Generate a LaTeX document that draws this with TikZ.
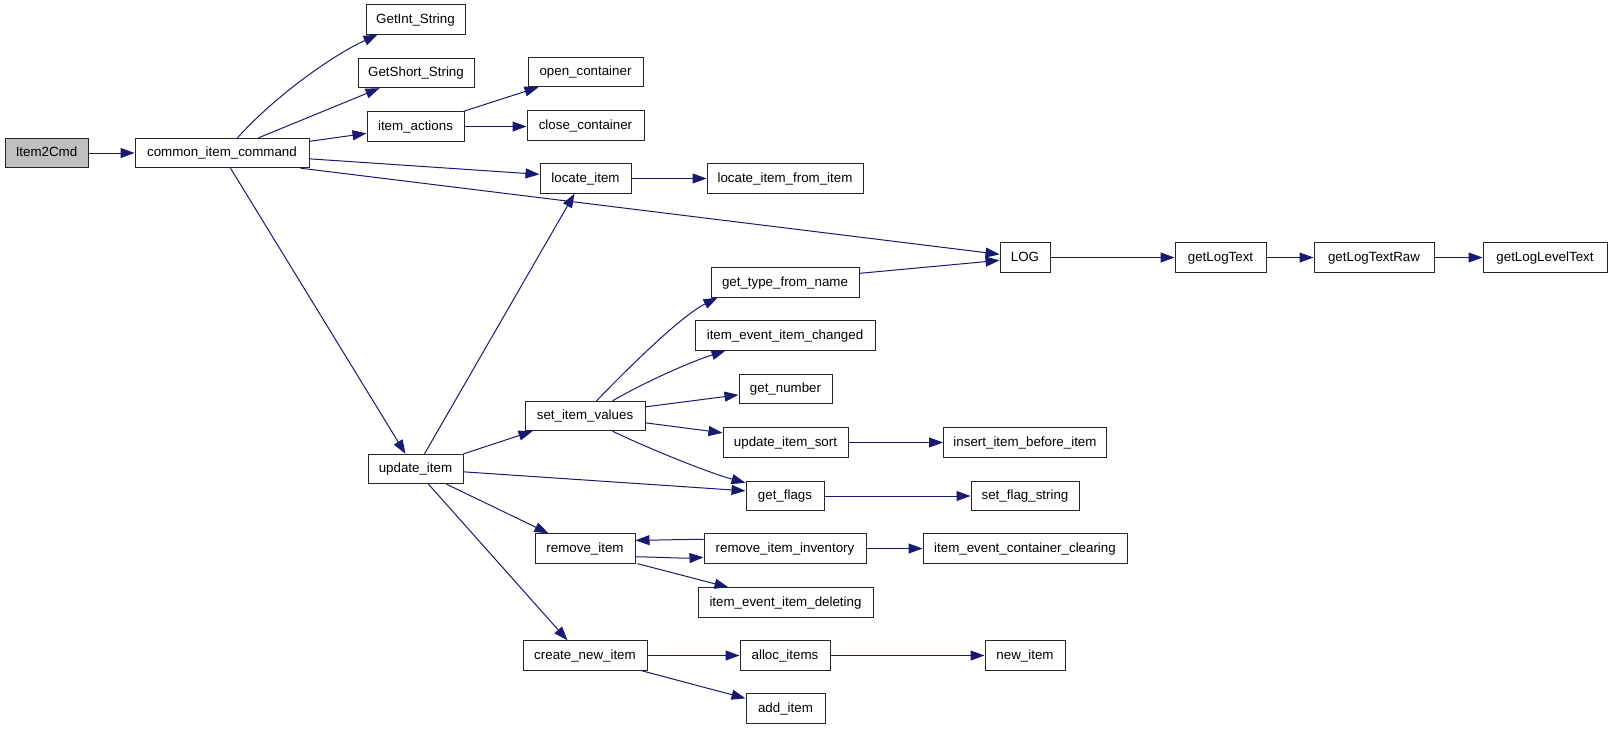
\documentclass[tikz,border=0pt]{standalone}
\usepackage{fontspec}
\setmainfont{Liberation Sans}
\usetikzlibrary{calc,arrows.meta}
\definecolor{edgeblue}{HTML}{191970}
\definecolor{rootgray}{HTML}{BFBFBF}
\tikzset{
  fbox/.style={draw=black!85, line width=0.75pt, fill=white, inner sep=0pt,
    minimum height=22pt, text height=8pt, text depth=2.4pt,
    font=\fontsize{10}{12}\selectfont},
  edge/.style={draw=edgeblue, line width=0.75pt,
    -{Triangle[length=10.5pt,width=7.5pt]}}
}
\begin{document}
\begin{tikzpicture}[x=0.75pt,y=-0.75pt]
\fill[white] (0,0) rectangle (1613,729);
\useasboundingbox (0,0) rectangle (1613,729);
% nodes
\node[fbox, fill=rootgray, minimum width=62.25pt] (item2cmd) at (46.5,153) {Item2Cmd};
\node[fbox, minimum width=130.5pt] (cic) at (222,153) {common\_item\_command};
\node[fbox, minimum width=74.25pt] (gis) at (415.5,19.5) {GetInt\_String};
\node[fbox, minimum width=87pt] (gss) at (416,73) {GetShort\_String};
\node[fbox, minimum width=72.75pt] (ia) at (415.5,126.5) {item\_actions};
\node[fbox, minimum width=86.25pt] (oc) at (585.5,72) {open\_container};
\node[fbox, minimum width=87.75pt] (cc) at (585.5,125.5) {close\_container};
\node[fbox, minimum width=68.25pt] (li) at (585.5,178.5) {locate\_item};
\node[fbox, minimum width=117pt] (lifi) at (785,178.5) {locate\_item\_from\_item};
\node[fbox, minimum width=37.5pt] (log) at (1025,257.5) {LOG};
\node[fbox, minimum width=68.25pt] (glt) at (1220.5,257.5) {getLogText};
\node[fbox, minimum width=90pt] (gltr) at (1374,257.5) {getLogTextRaw};
\node[fbox, minimum width=93pt] (glLT) at (1545,257.5) {getLogLevelText};
\node[fbox, minimum width=111pt] (gtfn) at (785,282.5) {get\_type\_from\_name};
\node[fbox, minimum width=135pt] (ieic) at (785,335.5) {item\_event\_item\_changed};
\node[fbox, minimum width=69.75pt] (gn) at (785.5,389) {get\_number};
\node[fbox, minimum width=90pt] (siv) at (585,416) {set\_item\_values};
\node[fbox, minimum width=93.75pt] (uis) at (785.5,442.5) {update\_item\_sort};
\node[fbox, minimum width=122.25pt] (iibi) at (1025,442.5) {insert\_item\_before\_item};
\node[fbox, minimum width=71.25pt] (ui) at (415.5,469) {update\_item};
\node[fbox, minimum width=58.5pt] (gf) at (785,496) {get\_flags};
\node[fbox, minimum width=81pt] (sfs) at (1025,496) {set\_flag\_string};
\node[fbox, minimum width=75pt] (ri) at (585,548.5) {remove\_item};
\node[fbox, minimum width=121.5pt] (rii) at (785,548.5) {remove\_item\_inventory};
\node[fbox, minimum width=153pt] (iecc) at (1025,548.5) {item\_event\_container\_clearing};
\node[fbox, minimum width=131.25pt] (ieid) at (785.5,602.5) {item\_event\_item\_deleting};
\node[fbox, minimum width=93pt] (cni) at (585,655.5) {create\_new\_item};
\node[fbox, minimum width=67.5pt] (ai) at (785,655.5) {alloc\_items};
\node[fbox, minimum width=60pt] (ni) at (1025,655.5) {new\_item};
\node[fbox, minimum width=59.25pt] (addi) at (785.5,708.5) {add\_item};
% edges
\draw[edge] (item2cmd) -- (cic);
\draw[edge] ($(cic.north west)+(103,0)$) .. controls (273,98) and (331,56) .. ($(gis.south west)+(12,0)$);
\draw[edge] ($(cic.north west)+(124,0)$) -- ($(gss.south west)+(22,0)$);
\draw[edge] ($(cic.north east)+(0,3.5)$) -- ($(ia.north west)+(0,22)$);
\draw[edge] ($(cic.north east)+(0,21)$) -- ($(li.north west)+(0,11)$);
\draw[edge] ($(cic.south east)+(-9,0)$) -- ($(log.north west)+(0,12)$);
\draw[edge] ($(cic.south west)+(96,0)$) -- ($(ui.north west)+(38,0)$);
\draw[edge] ($(ia.north east)+(-1,0)$) -- ($(oc.south west)+(11,0)$);
\draw[edge] (ia.east) -- (ia.east -| cc.west);
\draw[edge] (li) -- (lifi);
\draw[edge] (log) -- (glt);
\draw[edge] (glt) -- (gltr);
\draw[edge] (gltr) -- (glLT);
\draw[edge] ($(gtfn.north east)+(0,6)$) -- ($(log.north west)+(0,18)$);
\draw[edge] ($(ui.north west)+(57,0)$) -- ($(li.south west)+(35,0)$);
\draw[edge] (ui.north east) -- ($(siv.south west)+(8,0)$);
\draw[edge] ($(ui.north east)+(0,18)$) -- ($(gf.north west)+(0,10)$);
\draw[edge] ($(ui.south west)+(79,0)$) -- ($(ri.north west)+(14,0)$);
\draw[edge] ($(ui.south west)+(61,0)$) -- ($(cni.north west)+(45,0)$);
\draw[edge] ($(siv.north west)+(72,0)$) .. controls (637,359) and (683,315) .. ($(gtfn.south west)+(7,0)$);
\draw[edge] ($(siv.north west)+(88,0)$) .. controls (645,382) and (690,362) .. ($(ieic.south west)+(31,0)$);
\draw[edge] ($(siv.north east)+(0,6)$) -- ($(gn.north west)+(0,21)$);
\draw[edge] ($(siv.north east)+(0,22)$) -- ($(uis.north west)+(0,5.5)$);
\draw[edge] ($(siv.south west)+(88,0)$) .. controls (643,446) and (706,472) .. ($(gf.north west)+(0,2)$);
\draw[edge] (uis) -- (iibi);
\draw[edge] (gf) -- (sfs);
\draw[edge] ($(ri.north east)+(0,23.5)$) .. controls (660,557) and (680,558.5) .. ($(rii.north west)+(0,24)$);
\draw[edge] ($(rii.north west)+(0,6)$) .. controls (680,539.5) and (660,540) .. ($(ri.north east)+(0,7)$);
\draw[edge] (rii) -- (iecc);
\draw[edge] ($(ri.south east)+(2,0)$) -- ($(ieid.north west)+(31,0)$);
\draw[edge] (cni) -- (ai);
\draw[edge] (ai) -- (ni);
\draw[edge] ($(cni.south east)+(-6,0)$) -- ($(addi.north west)+(0,5)$);
\end{tikzpicture}
\end{document}
